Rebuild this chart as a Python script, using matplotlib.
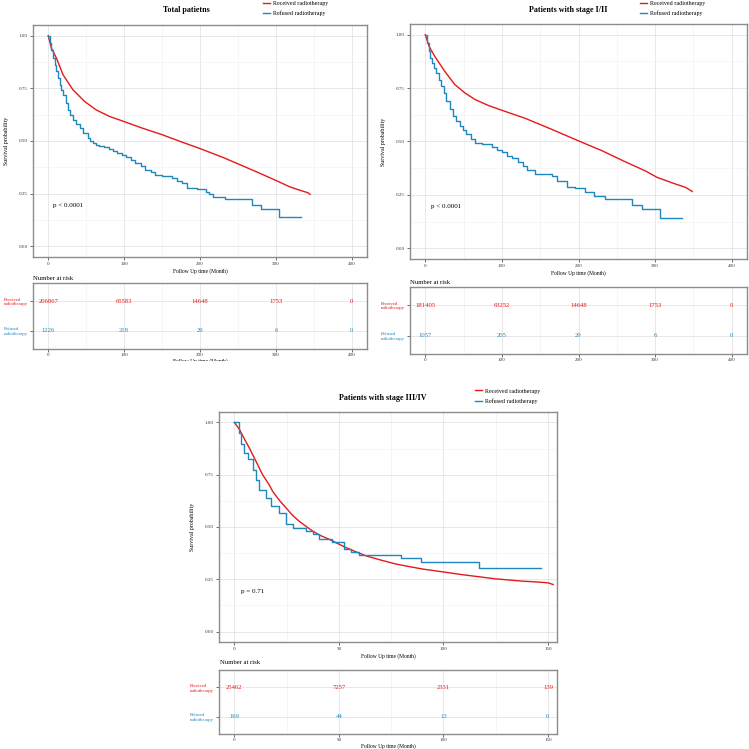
import matplotlib
matplotlib.use('Agg')
import matplotlib.pyplot as plt
from matplotlib.patches import Rectangle
from matplotlib.ticker import MultipleLocator

plt.rcParams['font.family'] = ['Liberation Serif', 'DejaVu Serif']

# ---- data ----
groups = ['Received radiotherapy', 'Refused radiotherapy']
row_labels = ['Refused\nradiotherapy', 'Received\nradiotherapy']

# Total patients
tot_rec_t = [0, 4.3, 10.9, 19.6, 32.6, 47.8, 63, 80.4, 97.8, 124, 150, 176, 198, 231, 275, 300, 318, 331, 342, 345]
tot_rec_s = [1, 0.94, 0.893, 0.814, 0.743, 0.688, 0.648, 0.617, 0.595, 0.561, 0.530, 0.495, 0.467, 0.421, 0.353, 0.313, 0.283, 0.267, 0.255, 0.247]
tot_ref_t = [0, 2.2, 4.3, 6.5, 8.7, 10.9, 13, 15.2, 17.4, 19.6, 23, 26, 29, 32.6, 37, 41.3, 46.5, 52, 55.7, 58.7, 63,
             67.4, 74, 80.4, 85.7, 91.3, 97, 102, 108.7, 115, 121.7, 128, 134.8, 141, 150, 163, 169.6, 176, 182.6,
             196.5, 207.4, 211.7, 217.4, 233.5, 268.3, 280, 304, 333]
tot_ref_s = [1, 0.964, 0.932, 0.893, 0.861, 0.83, 0.798, 0.767, 0.743, 0.72, 0.68, 0.648, 0.625, 0.60, 0.58, 0.561,
             0.537, 0.514, 0.50, 0.49, 0.479, 0.475, 0.47, 0.464, 0.454, 0.443, 0.432, 0.423, 0.41, 0.396, 0.38, 0.364,
             0.352, 0.341, 0.333, 0.325, 0.312, 0.301, 0.278, 0.271, 0.258, 0.247, 0.236, 0.223, 0.198, 0.176, 0.139,
             0.139]
tot_risk_t = [0, 100, 200, 300, 400]
tot_risk_rec = [206867, 65583, 14648, 1753, 0]
tot_risk_ref = [1226, 218, 29, 6, 0]

# Stage I/II
e_rec_t = [0, 5, 12.2, 25.3, 38.4, 51.5, 64.6, 82, 100, 130, 165, 200, 230.6, 261, 287, 302.6, 326.6, 340, 348.5]
e_rec_s = [1, 0.945, 0.899, 0.829, 0.767, 0.728, 0.697, 0.669, 0.646, 0.609, 0.557, 0.503, 0.457, 0.405, 0.363, 0.332, 0.301, 0.285, 0.266]
e_ref_t = [0, 2.2, 4.4, 6.6, 8.7, 11.4, 14.4, 17.5, 21, 24, 27.5, 31.9, 36.2, 40.6, 45, 49.3, 53.7, 59.4, 64.6, 73.4,
           86.5, 93, 99.6, 106, 112.7, 121.4, 128, 132.3, 143, 165, 171.6, 184.7, 195.6, 208.7, 219.7, 235, 270, 283,
           307, 335]
e_ref_s = [1, 0.961, 0.922, 0.891, 0.868, 0.845, 0.821, 0.79, 0.759, 0.728, 0.689, 0.651, 0.62, 0.596, 0.573, 0.554,
           0.534, 0.514, 0.495, 0.488, 0.472, 0.461, 0.449, 0.433, 0.421, 0.405, 0.387, 0.368, 0.348, 0.340, 0.317,
           0.289, 0.281, 0.262, 0.247, 0.231, 0.203, 0.182, 0.143, 0.143]
e_risk_t = [0, 100, 200, 300, 400]
e_risk_rec = [181405, 63252, 14648, 1753, 0]
e_risk_ref = [1057, 205, 29, 6, 0]

# Stage III/IV
l_rec_t = [0, 2.4, 4.8, 7.2, 10.4, 13.5, 16.6, 18.3, 20, 22, 24.7, 27, 29, 31, 34, 37.4, 41, 45.4, 49, 53.3, 58, 63, 70,
           77.2, 84, 90, 100, 109, 117, 125, 132, 137.7, 145, 150, 152.5]
l_rec_s = [1, 0.967, 0.921, 0.877, 0.813, 0.75, 0.703, 0.671, 0.648, 0.622, 0.592, 0.565, 0.545, 0.528, 0.505, 0.481,
           0.46, 0.441, 0.423, 0.402, 0.382, 0.362, 0.342, 0.323, 0.31, 0.299, 0.285, 0.272, 0.262, 0.252, 0.246, 0.241,
           0.237, 0.233, 0.225]
l_ref_t = [0, 2.1, 3.2, 4.8, 6.4, 8.8, 10.4, 11.9, 15.1, 17.5, 21.5, 24.7, 27.9, 34.2, 37.4, 40.6, 46.9, 52.5, 56, 59.7,
           79.6, 89.2, 117, 146.5]
l_ref_s = [1, 0.951, 0.897, 0.853, 0.826, 0.774, 0.726, 0.679, 0.639, 0.6, 0.568, 0.513, 0.497, 0.481, 0.465, 0.441,
           0.426, 0.394, 0.38, 0.365, 0.354, 0.335, 0.304, 0.304]
l_risk_t = [0, 50, 100, 150]
l_risk_rec = [25462, 7257, 2331, 139]
l_risk_ref = [169, 44, 13, 0]

RED = '#E3191C'
BLUE = '#1E87C0'
W = 749.0


def rect(l, t, r, b):
    return [l / W, 1 - b / W, (r - l) / W, (b - t) / W]


def style(ax, xmaj, xmin):
    for s in ax.spines.values():
        s.set_color('#8c8c8c')
        s.set_linewidth(1.0)
    ax.xaxis.set_major_locator(MultipleLocator(xmaj))
    ax.xaxis.set_minor_locator(MultipleLocator(xmin))
    ax.tick_params(which='major', length=2.2, width=0.5, color='#333333', labelsize=3.6, pad=1.5, labelcolor='#333333')
    ax.tick_params(which='minor', length=0)
    ax.grid(which='major', color='#e4e4e4', lw=0.6)
    ax.grid(which='minor', color='#f0f0f0', lw=0.4)
    ax.set_axisbelow(True)


def panel(box_main, box_risk, title, title_xy, leg_xy, rec_t, rec_s, ref_t, ref_s, pval,
          risk_t, risk_rec, risk_ref, xlim, xmaj, nar_xy, pxy):
    ax = fig.add_axes(rect(*box_main))
    style(ax, xmaj, xmaj / 2)
    l1, = ax.plot(rec_t, rec_s, color=RED, lw=1.0)
    l2, = ax.plot(ref_t, ref_s, color=BLUE, lw=1.0, drawstyle='steps-post')
    ax.set_xlim(*xlim)
    ax.set_ylim(-0.05, 1.05)
    ax.set_yticks([0, 0.25, 0.5, 0.75, 1.0])
    ax.set_yticklabels(['0.00', '0.25', '0.50', '0.75', '1.00'])
    ax.yaxis.set_minor_locator(MultipleLocator(0.125))
    ax.set_ylabel('Survival probability', fontsize=4.2, labelpad=7)
    ax.set_xlabel('Follow Up time (Month)', fontsize=4.0, labelpad=1.2)
    ax.text(pxy[0], pxy[1], pval, fontsize=5.0, ha='left', va='center')
    fig.text(title_xy[0] / W, 1 - title_xy[1] / W, title, fontsize=5.8, fontweight='bold', ha='center', va='center')
    ax.legend([l1, l2], groups, loc='center left', bbox_to_anchor=(leg_xy[0] / W, 1 - leg_xy[1] / W),
              bbox_transform=fig.transFigure, frameon=False, fontsize=4.3, handlelength=1.15,
              handletextpad=0.55, borderpad=0, borderaxespad=0, labelspacing=0.75)

    rx = fig.add_axes(rect(*box_risk))
    style(rx, xmaj, xmaj / 2)
    rx.tick_params(axis='x', pad=1.0)
    rx.set_xlim(*xlim)
    rx.set_ylim(0.4, 2.6)
    rx.set_yticks([1, 2])
    rx.set_yticklabels(row_labels)
    for lab, c in zip(rx.get_yticklabels(), [BLUE, RED]):
        lab.set_color(c)
        lab.set_fontsize(3.4)
        lab.set_multialignment('left')
    rx.grid(which='minor', axis='y', visible=False)
    for t, v in zip(risk_t, risk_rec):
        rx.text(t, 2, str(v), color=RED, fontsize=4.8, ha='center', va='center')
    for t, v in zip(risk_t, risk_ref):
        rx.text(t, 1, str(v), color=BLUE, fontsize=4.8, ha='center', va='center')
    rx.set_xlabel('Follow Up time (Month)', fontsize=4.0, labelpad=0.3)
    fig.text(nar_xy[0] / W, 1 - nar_xy[1] / W, 'Number at risk', fontsize=4.8, ha='left', va='center')


fig = plt.figure(figsize=(7.49, 7.49), dpi=100)

panel((33, 25, 367, 257), (33, 283, 367, 349), 'Total patietns', (186, 10), (263, 8.5),
      tot_rec_t, tot_rec_s, tot_ref_t, tot_ref_s, 'p < 0.0001',
      tot_risk_t, tot_risk_rec, tot_risk_ref, (-20, 420), 100, (33, 278), (7, 0.195))

panel((410, 24, 747, 259), (410, 287, 747, 354), 'Patients with stage I/II', (568, 10), (640, 8.5),
      e_rec_t, e_rec_s, e_ref_t, e_ref_s, 'p < 0.0001',
      e_risk_t, e_risk_rec, e_risk_ref, (-20, 420), 100, (410, 282), (7, 0.195))

# white band hides the lower half of the top risk table labels, as in the source image
fig.add_artist(Rectangle((0, 1 - 382 / W), 1, 21 / W, transform=fig.transFigure,
                         facecolor='white', edgecolor='none', zorder=20))

panel((219, 412, 557, 642), (219, 670, 557, 734), 'Patients with stage III/IV', (383, 398), (475, 396),
      l_rec_t, l_rec_s, l_ref_t, l_ref_s, 'p = 0.71',
      l_risk_t, l_risk_rec, l_risk_ref, (-7.35, 154.35), 50, (220, 662), (3, 0.19))

fig.savefig('out.png', dpi=100, facecolor='white')
